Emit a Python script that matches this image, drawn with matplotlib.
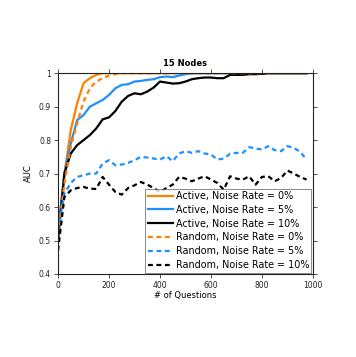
import numpy as np
import matplotlib
matplotlib.use("Agg")
import matplotlib.pyplot as plt

questions = list(range(0, 1000, 25))  # 0..975

active_0 = [0.52, 0.70, 0.83, 0.91, 0.97, 0.985, 0.995, 1.0, 1.0, 1.0,
            1.0, 1.0, 1.0, 1.0, 1.0, 1.0, 1.0, 1.0, 1.0, 1.0,
            1.0, 1.0, 1.0, 1.0, 1.0, 1.0, 1.0, 1.0, 1.0, 1.0,
            1.0, 1.0, 1.0, 1.0, 1.0, 1.0, 1.0, 1.0, 1.0, 1.0]
active_5 = [0.53, 0.70, 0.79, 0.86, 0.875, 0.90, 0.91, 0.92, 0.935, 0.955,
            0.965, 0.967, 0.975, 0.977, 0.98, 0.982, 0.988, 0.99, 0.988, 0.993,
            0.997, 1.0, 1.0, 1.0, 1.0, 1.0, 1.0, 1.0, 1.0, 1.0,
            1.0, 1.0, 1.0, 1.0, 1.0, 1.0, 1.0, 1.0, 1.0, 1.0]
active_10 = [0.50, 0.70, 0.76, 0.785, 0.80, 0.815, 0.835, 0.862, 0.868, 0.887,
             0.915, 0.932, 0.94, 0.937, 0.945, 0.957, 0.975, 0.972, 0.969, 0.97,
             0.975, 0.982, 0.985, 0.987, 0.987, 0.985, 0.985, 0.995, 0.995, 0.995,
             0.997, 0.997, 0.998, 1.0, 1.0, 1.0, 1.0, 1.0, 1.0, 1.0]
random_0 = [0.52, 0.67, 0.78, 0.85, 0.915, 0.955, 0.975, 0.985, 0.993, 0.997,
            1.0, 1.0, 1.0, 1.0, 1.0, 1.0, 1.0, 1.0, 1.0, 1.0,
            1.0, 1.0, 1.0, 1.0, 1.0, 1.0, 1.0, 1.0, 1.0, 1.0,
            1.0, 1.0, 1.0, 1.0, 1.0, 1.0, 1.0, 1.0, 1.0, 1.0]
random_5 = [0.53, 0.64, 0.672, 0.69, 0.695, 0.70, 0.70, 0.73, 0.74, 0.725,
            0.727, 0.732, 0.74, 0.75, 0.748, 0.745, 0.742, 0.752, 0.737, 0.76,
            0.767, 0.762, 0.767, 0.76, 0.757, 0.742, 0.745, 0.759, 0.762, 0.762,
            0.779, 0.775, 0.772, 0.782, 0.77, 0.767, 0.782, 0.777, 0.765, 0.742]
random_10 = [0.47, 0.63, 0.65, 0.657, 0.66, 0.655, 0.654, 0.69, 0.667, 0.645,
             0.637, 0.657, 0.665, 0.675, 0.667, 0.657, 0.645, 0.657, 0.667, 0.69,
             0.685, 0.677, 0.685, 0.692, 0.682, 0.672, 0.652, 0.692, 0.685, 0.682,
             0.692, 0.667, 0.69, 0.692, 0.677, 0.687, 0.709, 0.70, 0.69, 0.682]

labels = ["Active, Noise Rate = 0%", "Active, Noise Rate = 5%", "Active, Noise Rate = 10%",
          "Random, Noise Rate = 0%", "Random, Noise Rate = 5%", "Random, Noise Rate = 10%"]

orange = "#FF8000"
blue = "#1E8FFF"
black = "#000000"

plt.rcParams['font.family'] = ['DejaVu Sans']
fig = plt.figure(figsize=(3.56, 3.57), dpi=100)
ax = fig.add_axes([0.163, 0.2325, 0.716, 0.5625])

lw = 1.6
ax.plot(questions, active_0, color=orange, lw=lw, label=labels[0])
ax.plot(questions, active_5, color=blue, lw=lw, label=labels[1])
ax.plot(questions, active_10, color=black, lw=lw, label=labels[2])
ds = (0, (2.2, 1.6))
ax.plot(questions, random_0, color=orange, lw=lw, ls=ds, label=labels[3])
ax.plot(questions, random_5, color=blue, lw=lw, ls=ds, label=labels[4])
ax.plot(questions, random_10, color=black, lw=lw, ls=ds, label=labels[5])

ax.set_xlim(0, 1000)
ax.set_ylim(0.4, 1.0)
ax.set_xticks([0, 200, 400, 600, 800, 1000])
ax.set_yticks([0.4, 0.5, 0.6, 0.7, 0.8, 0.9, 1.0])
ax.set_yticklabels(["0.4", "0.5", "0.6", "0.7", "0.8", "0.9", "1"])
ax.tick_params(direction='out', length=3, width=0.6, labelsize=5.5, pad=2,
               top=True, right=True, colors='#333333', labelcolor='#222222')
for s in ax.spines.values():
    s.set_linewidth(0.8)
    s.set_color('#222222')

ax.set_title("15 Nodes", fontsize=6, fontweight='bold', pad=5)
ax.set_xlabel("# of Questions", fontsize=6, labelpad=1)
ax.set_ylabel("AUC", fontsize=6, labelpad=4)

leg = ax.legend(loc='lower right', fontsize=6.9, frameon=True, fancybox=False,
                edgecolor='#555555', borderaxespad=0.15, handlelength=2.6,
                handletextpad=0.3, labelspacing=0.4, borderpad=0.25)
leg.get_frame().set_linewidth(0.6)

fig.savefig("out.png", dpi=100)
